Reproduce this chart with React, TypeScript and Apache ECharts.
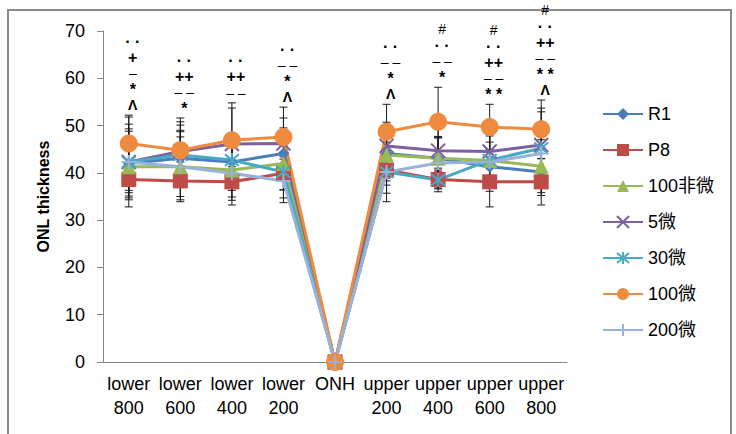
import React, { useEffect, useRef } from "react";
import * as echarts from "echarts";

// ---------- data ----------
const categories = [
  "lower\n800", "lower\n600", "lower\n400", "lower\n200", "ONH",
  "upper\n200", "upper\n400", "upper\n600", "upper\n800",
];

const seriesNames = ["R1", "P8", "100非微", "5微", "30微", "100微", "200微"];

const r1Values = [42.0, 43.1, 42.3, 44.1, 0, 44.1, 43.1, 41.3, 40.2];
const p8Values = [38.6, 38.3, 38.1, 39.9, 0, 40.6, 38.6, 38.1, 38.1];
const non100Values = [41.3, 41.3, 40.6, 42.0, 0, 43.8, 43.1, 42.6, 41.4];
const micro5Values = [42.3, 44.5, 46.1, 46.2, 0, 45.7, 44.7, 44.5, 45.9];
const micro30Values = [42.3, 43.8, 42.7, 40.2, 0, 40.2, 38.5, 42.7, 45.2];
const micro100Values = [46.2, 44.8, 46.9, 47.6, 0, 48.7, 50.8, 49.7, 49.2];
const micro200Values = [42.3, 41.3, 39.9, 38.3, 0, 40.2, 42.1, 42.3, 44.1];

const r1Errors = [7.3, 5.9, 6.0, 5.4, 0, 5.2, 4.3, 5.2, 5.0];
const p8Errors = [3.5, 4.0, 3.2, 3.5, 0, 3.2, 2.0, 5.3, 4.9];
const non100Errors = [5.0, 7.4, 7.4, 5.6, 0, 5.5, 4.6, 5.5, 5.6];
const micro5Errors = [9.5, 6.3, 7.6, 5.4, 0, 5.0, 4.5, 5.0, 7.8];
const micro30Errors = [8.0, 6.3, 5.7, 5.5, 0, 6.3, 2.5, 5.6, 7.7];
const micro100Errors = [6.0, 6.8, 7.9, 6.3, 0, 5.8, 7.3, 4.8, 6.2];
const micro200Errors = [6.5, 6.3, 5.7, 4.6, 0, 4.5, 5.3, 5.5, 6.0];

// significance marks per category, top row first
const annotations: string[][] = [
  ["· ·", "+", "–", "*", "Λ"],
  ["· ·", "++", "– –", "*"],
  ["· ·", "++", "– –"],
  ["· ·", "– –", "*", "Λ"],
  [],
  ["· ·", "– –", "*", "Λ"],
  ["#", "· ·", "– –", "*"],
  ["#", "· ·", "++", "– –", "* *"],
  ["#", "· ·", "++", "– –", "* *", "Λ"],
];

const yMin = 0;
const yMax = 70;
const yInterval = 10;

// ---------- styles ----------
const FONT = '"Liberation Sans", "Noto Sans CJK SC", sans-serif';
const colors = ["#4A7EBB", "#BE4B48", "#98B954", "#7D60A0", "#46AAC5", "#EE8B3E", "#98B2DA"];
const symbols = [
  "diamond",
  "rect",
  "triangle",
  "path://M0,0L10,10M10,0L0,10",
  "path://M0,0L10,10M10,0L0,10M5,-1L5,11",
  "circle",
  "path://M5,0L5,10M0,5L10,5",
];
const symbolSizes = [12, 15, 15, 14, 14, 18, 14];
const strokeSymbol = [false, false, false, true, true, false, true];

const allValues = [r1Values, p8Values, non100Values, micro5Values, micro30Values, micro100Values, micro200Values];
const allErrors = [r1Errors, p8Errors, non100Errors, micro5Errors, micro30Errors, micro100Errors, micro200Errors];

const glyphStyleKey: Record<string, string> = {
  "#": "hash", "· ·": "dots", "+": "plus", "++": "plus", "–": "minus", "– –": "minus",
  "*": "star", "* *": "star", "Λ": "caret",
};
const ROW = 16;
const richStyles: Record<string, any> = {
  hash: { fontSize: 14, lineHeight: ROW, fontFamily: FONT, fill: "#000" },
  dots: { fontSize: 16, fontWeight: "bold", lineHeight: ROW, fontFamily: FONT, fill: "#000" },
  plus: { fontSize: 16, fontWeight: "bold", lineHeight: ROW, fontFamily: FONT, fill: "#000" },
  minus: { fontSize: 14, lineHeight: ROW, fontFamily: FONT, fill: "#000" },
  star: { fontSize: 16, fontWeight: "bold", lineHeight: ROW, fontFamily: FONT, fill: "#000" },
  caret: { fontSize: 14, fontWeight: "bold", lineHeight: ROW, fontFamily: FONT, fill: "#000" },
};

export default function App() {
  const ref = useRef<HTMLDivElement>(null);

  useEffect(() => {
    if (!ref.current) return;
    const chart = echarts.init(ref.current, undefined, { renderer: "svg" });

    const lineSeries = seriesNames.map((name, i) => ({
      name,
      type: "line",
      data: allValues[i],
      symbol: symbols[i],
      symbolSize: symbolSizes[i],
      showAllSymbol: true,
      clip: false,
      z: 3,
      lineStyle: { color: colors[i], width: 3 },
      itemStyle: strokeSymbol[i]
        ? { color: colors[i], borderColor: colors[i], borderWidth: 2 }
        : { color: colors[i] },
      emphasis: { disabled: true },
    }));

    const errData: number[][] = [];
    allValues.forEach((vals, s) => {
      vals.forEach((v, c) => {
        const e = allErrors[s][c];
        if (e > 0) errData.push([c, v - e, v + e]);
      });
    });

    const annoData: number[][] = [];
    categories.forEach((_, c) => {
      if (!annotations[c].length) return;
      let top = -Infinity;
      allValues.forEach((vals, s) => {
        top = Math.max(top, vals[c] + allErrors[s][c]);
      });
      annoData.push([c, top]);
    });

    const option: any = {
      animation: false,
      backgroundColor: "#fff",
      textStyle: { fontFamily: FONT },
      graphic: [
        {
          type: "rect",
          silent: true,
          z: -10,
          shape: { x: 8, y: 10, width: 723, height: 470 },
          style: { fill: "none", stroke: "#8a8a8a", lineWidth: 2 },
        },
      ],
      grid: { left: 103, right: 169, top: 31, bottom: 72 },
      legend: {
        orient: "vertical",
        left: 597,
        top: 99,
        itemWidth: 40,
        itemHeight: 15,
        itemGap: 16,
        data: seriesNames,
        textStyle: { fontFamily: FONT, fontSize: 18, color: "#000", lineHeight: 20 },
      },
      xAxis: {
        type: "category",
        data: categories,
        boundaryGap: true,
        axisLine: { lineStyle: { color: "#868686", width: 1 } },
        axisTick: { alignWithLabel: true, length: 6, lineStyle: { color: "#868686" } },
        axisLabel: {
          interval: 0,
          fontFamily: FONT,
          fontSize: 18,
          lineHeight: 24,
          color: "#000",
          margin: 10,
        },
        splitLine: { show: false },
      },
      yAxis: {
        type: "value",
        min: yMin,
        max: yMax,
        interval: yInterval,
        name: "ONL thickness",
        nameLocation: "middle",
        nameGap: 52,
        nameTextStyle: { fontFamily: FONT, fontSize: 16, fontWeight: "bold", color: "#000" },
        axisLine: { show: true, lineStyle: { color: "#868686", width: 1 } },
        axisTick: { show: true, length: 6, lineStyle: { color: "#868686" } },
        axisLabel: { fontFamily: FONT, fontSize: 18, color: "#000", margin: 18 },
        splitLine: { show: false },
      },
      series: [
        {
          type: "custom",
          name: "errorbars",
          coordinateSystem: "cartesian2d",
          data: errData,
          z: 2,
          clip: false,
          silent: true,
          renderItem: (_params: any, api: any) => {
            const x = api.value(0);
            const lo = api.coord([x, api.value(1)]);
            const hi = api.coord([x, api.value(2)]);
            const w = 4;
            const st = { stroke: "#1a1a1a", lineWidth: 1 };
            return {
              type: "group",
              children: [
                { type: "line", shape: { x1: lo[0], y1: lo[1], x2: hi[0], y2: hi[1] }, style: st },
                { type: "line", shape: { x1: hi[0] - w, y1: hi[1], x2: hi[0] + w, y2: hi[1] }, style: st },
                { type: "line", shape: { x1: lo[0] - w, y1: lo[1], x2: lo[0] + w, y2: lo[1] }, style: st },
              ],
            };
          },
        },
        ...lineSeries,
        {
          type: "custom",
          name: "annotations",
          coordinateSystem: "cartesian2d",
          data: annoData,
          z: 10,
          clip: false,
          silent: true,
          renderItem: (_params: any, api: any) => {
            const c = api.value(0);
            const p = api.coord([c, api.value(1)]);
            const rows = annotations[c];
            const text = rows.map((t) => `{${glyphStyleKey[t]}|${t}}`).join("\n");
            return {
              type: "text",
              x: p[0] + 4,
              y: p[1] - 2,
              style: {
                text,
                rich: richStyles,
                fill: "#000",
                fontFamily: FONT,
                align: "center",
                verticalAlign: "bottom",
              },
            };
          },
        },
      ],
    };

    chart.setOption(option);
    return () => chart.dispose();
  }, []);

  return (
    <div
      ref={ref}
      style={{ position: "fixed", left: 0, top: 0, width: 736, height: 434, background: "#fff" }}
    />
  );
}
